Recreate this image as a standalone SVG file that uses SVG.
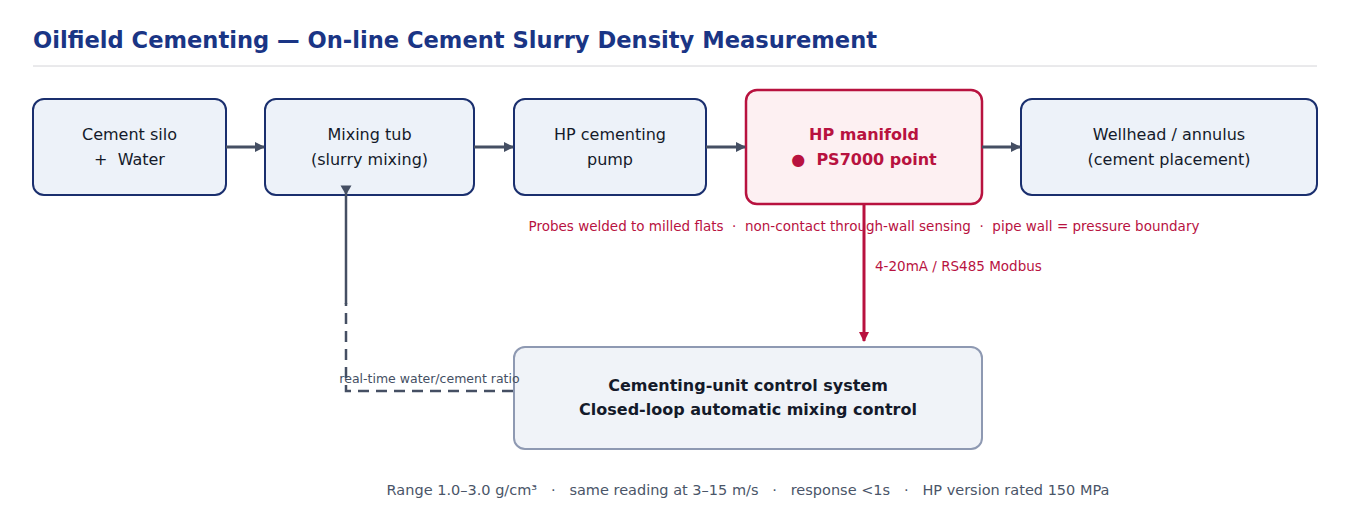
<svg xmlns="http://www.w3.org/2000/svg" width="1350" height="516" viewBox="0 0 1350 516">
<style>
  text { font-family: "DejaVu Sans", "Liberation Sans", sans-serif; white-space: pre; }
  .title { font-size: 22.6px; font-weight: bold; fill: #1a3585; }
  .box { fill: #edf2f9; stroke: #1a2f6e; stroke-width: 2; }
  .hot { fill: #fdf0f2; stroke: #b8123f; stroke-width: 2.5; }
  .ctl { fill: #f0f3f8; stroke: #8e99b2; stroke-width: 2; }
  .lbl { font-size: 16px; fill: #141a2a; text-anchor: middle; }
  .hotlbl { font-size: 16px; font-weight: bold; fill: #b8123f; text-anchor: middle; }
  .ctllbl { font-size: 16px; font-weight: bold; fill: #141a2a; text-anchor: middle; }
  .flow { stroke: #454f63; stroke-width: 3; fill: none; }
  .red { fill: #b8123f; font-size: 13.5px; }
  .note { font-size: 12.5px; fill: #454f63; }
  .foot { font-size: 14.5px; fill: #4a5568; text-anchor: middle; }
</style>
<defs>
  <marker id="ah" markerWidth="10" markerHeight="10" refX="9" refY="5" orient="auto" markerUnits="userSpaceOnUse">
    <path d="M0,0 L10,5 L0,10 Z" fill="#454f63"/>
  </marker>
  <marker id="ahr" markerWidth="10" markerHeight="10" refX="9" refY="5" orient="auto" markerUnits="userSpaceOnUse">
    <path d="M0,0 L10,5 L0,10 Z" fill="#b8123f"/>
  </marker>
</defs>
<rect width="1350" height="516" fill="#ffffff"/>
<text class="title" x="33" y="48">Oilfield Cementing — On-line Cement Slurry Density Measurement</text>
<line x1="33" y1="66" x2="1317" y2="66" stroke="#d4d4d8" stroke-width="1"/>

<g id="n-silo">
  <rect class="box" x="33" y="99" width="193" height="96" rx="11"/>
  <text class="lbl" x="129.5" y="140">Cement silo</text>
  <text class="lbl" x="129.5" y="165">+  Water</text>
</g>
<g id="n-tub">
  <rect class="box" x="265" y="99" width="209" height="96" rx="11"/>
  <text class="lbl" x="369.5" y="140">Mixing tub</text>
  <text class="lbl" x="369.5" y="165">(slurry mixing)</text>
</g>
<g id="n-pump">
  <rect class="box" x="514" y="99" width="192" height="96" rx="11"/>
  <text class="lbl" x="610" y="140">HP cementing</text>
  <text class="lbl" x="610" y="165">pump</text>
</g>
<g id="n-manifold">
  <rect class="hot" x="746" y="90" width="236" height="114" rx="11"/>
  <text class="hotlbl" x="864" y="140">HP manifold</text>
  <text class="hotlbl" x="864" y="165">●  PS7000 point</text>
</g>
<g id="n-wellhead">
  <rect class="box" x="1021" y="99" width="296" height="96" rx="11"/>
  <text class="lbl" x="1169" y="140">Wellhead / annulus</text>
  <text class="lbl" x="1169" y="165">(cement placement)</text>
</g>
<g id="n-control">
  <rect class="ctl" x="514" y="347" width="468" height="102" rx="11"/>
  <text class="ctllbl" x="748" y="391">Cementing-unit control system</text>
  <text class="ctllbl" x="748" y="415">Closed-loop automatic mixing control</text>
</g>

<g id="connectors">
  <line class="flow" x1="226" y1="147" x2="264" y2="147" marker-end="url(#ah)"/>
  <line class="flow" x1="474" y1="147" x2="513" y2="147" marker-end="url(#ah)"/>
  <line class="flow" x1="706" y1="147" x2="745" y2="147" marker-end="url(#ah)"/>
  <line class="flow" x1="982" y1="147" x2="1020" y2="147" marker-end="url(#ah)"/>
  <line x1="864" y1="205" x2="864" y2="341" stroke="#b8123f" stroke-width="3" marker-end="url(#ahr)"/>
  <path d="M513,391 H346 V303" fill="none" stroke="#454f63" stroke-width="2.5" stroke-dasharray="11,7"/>
  <line x1="346" y1="304" x2="346" y2="192" stroke="#454f63" stroke-width="2.5"/>
  <path d="M340.5,185.5 L351.5,185.5 L346,195 Z" fill="#454f63"/>
</g>

<text class="red" x="864" y="231" text-anchor="middle">Probes welded to milled flats  ·  non-contact through-wall sensing  ·  pipe wall = pressure boundary</text>
<text class="red" x="875" y="271">4-20mA / RS485 Modbus</text>
<text class="note" x="429.5" y="383" text-anchor="middle">real-time water/cement ratio</text>
<text class="foot" x="748" y="495">Range 1.0–3.0 g/cm³   ·   same reading at 3–15 m/s   ·   response &lt;1s   ·   HP version rated 150 MPa</text>
</svg>
